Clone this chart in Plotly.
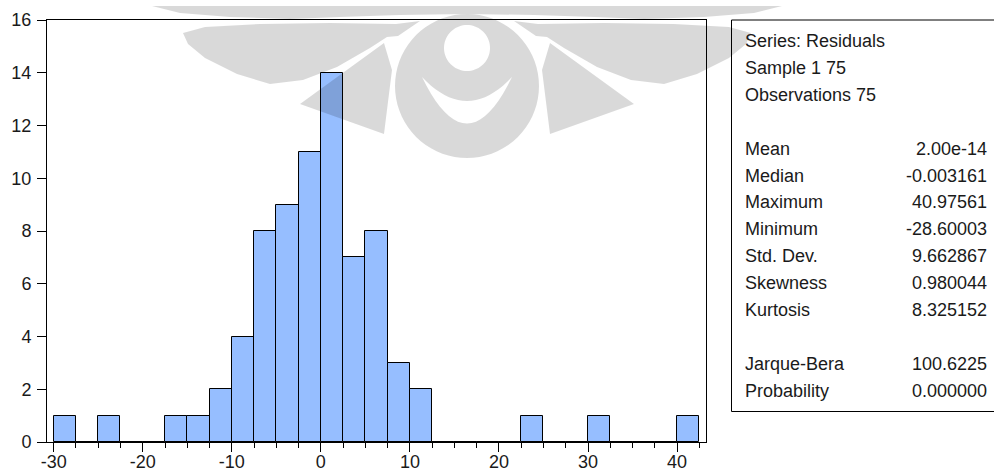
import math
import plotly.graph_objects as go

# Residual histogram: equal-width bins starting at -30
bin_start = -30.0
bin_width = 2.5
counts = [1, 0, 1, 0, 0, 1, 1, 2, 4, 8, 9, 11, 14, 7, 8, 3, 2,
          0, 0, 0, 0, 1, 0, 0, 1, 0, 0, 0, 1]

x_ticks = [-30, -20, -10, 0, 10, 20, 30, 40]
x_tick_labels = ["-30", "-20", "-10", "0", "10", "20", "30", "40"]
y_ticks = [0, 2, 4, 6, 8, 10, 12, 14, 16]

# Descriptive statistics panel
header_lines = ["Series: Residuals", "Sample 1 75", "Observations 75"]
stat_names = ["Mean", "Median", "Maximum", "Minimum", "Std. Dev.", "Skewness", "Kurtosis"]
stat_values = ["2.00e-14", "-0.003161", "40.97561", "-28.60003", "9.662867", "0.980044", "8.325152"]
test_names = ["Jarque-Bera", "Probability"]
test_values = ["100.6225", "0.000000"]

# ---- page geometry (pixels) ----
W, H = 994, 472
ML, MR, MT, MB = 47, 288, 20, 30
PW = W - ML - MR
PH = H - MT - MB
FONT = "Arial, Liberation Sans, sans-serif"
INK = "#1a1a1a"


def px_x(px):
    return (px - ML) / PW


def px_y(py):
    return (H - MB - py) / PH


bin_centers = [bin_start + bin_width * (i + 0.5) for i in range(len(counts))]

fig = go.Figure()
fig.add_trace(go.Bar(
    x=bin_centers,
    y=counts,
    width=bin_width,
    marker=dict(color="#96BEFF", line=dict(color="black", width=1)),
    hoverinfo="x+y",
))

# ---- stats panel: frame + text lines ----
shapes = [dict(type="rect", xref="paper", yref="paper",
               x0=px_x(731.5), x1=px_x(1000), y0=px_y(411.5), y1=px_y(20),
               line=dict(color="black", width=1), fillcolor="rgba(0,0,0,0)",
               layer="above")]

annotations = []
line_h = 26.9
top_y = 41.0
rows = []
for i, t in enumerate(header_lines):
    rows.append((t, None, top_y + i * line_h))
for i, (n, v) in enumerate(zip(stat_names, stat_values)):
    rows.append((n, v, top_y + (4 + i) * line_h))
for i, (n, v) in enumerate(zip(test_names, test_values)):
    rows.append((n, v, top_y + (12 + i) * line_h))

for name, val, yy in rows:
    annotations.append(dict(xref="paper", yref="paper", x=px_x(743), y=px_y(yy),
                            xanchor="left", yanchor="middle", text=name,
                            showarrow=False, font=dict(family=FONT, size=18, color=INK)))
    if val is not None:
        annotations.append(dict(xref="paper", yref="paper", x=px_x(988.5), y=px_y(yy),
                                xanchor="right", yanchor="middle", text=val,
                                showarrow=False, font=dict(family=FONT, size=18, color=INK)))

# ---- faint logo watermark across the top ----
CX = 467.0


def oriented(pts, positive=True):
    area = 0.0
    for (x1, y1), (x2, y2) in zip(pts, pts[1:] + pts[:1]):
        area += x1 * y2 - x2 * y1
    if (area > 0) != positive:
        pts = pts[::-1]
    return pts


def mirror(pts):
    return [(2 * CX - x, y) for x, y in pts]


def circle(cx, cy, r, n=72):
    return [(cx + r * math.cos(2 * math.pi * k / n), cy + r * math.sin(2 * math.pi * k / n))
            for k in range(n)]


band_half = [(143, 0), (CX, 0), (CX, 14), (400, 15), (340, 17), (290, 19),
             (230, 17), (180, 13), (152, 6)]
band = band_half + mirror(band_half)[::-1]
swoosh = [(183, 33), (205, 27), (260, 24), (330, 23), (396, 24), (420, 21),
          (398, 36), (387, 37), (370, 48), (337, 67), (303, 80), (270, 84),
          (237, 74), (205, 58), (188, 44)]
feather = [(300, 104), (384, 43), (392, 70), (384, 134)]

solid = [band, swoosh, mirror(swoosh), feather, mirror(feather), circle(CX, 86, 72)]
hole = circle(CX, 48, 23)
crescent = []
for k in range(0, 21):
    t = k / 20
    crescent.append(((1 - t) ** 2 * 422 + 2 * (1 - t) * t * CX + t ** 2 * 512,
                     (1 - t) ** 2 * 77 + 2 * (1 - t) * t * 170 + t ** 2 * 77))
for k in range(19, 0, -1):
    t = k / 20
    crescent.append(((1 - t) ** 2 * 422 + 2 * (1 - t) * t * CX + t ** 2 * 512,
                     (1 - t) ** 2 * 77 + 2 * (1 - t) * t * 125 + t ** 2 * 77))

parts = [oriented(p, True) for p in solid] + [oriented(hole, False), oriented(crescent, False)]
path = ""
for p in parts:
    path += "M" + "L".join(f"{px_x(x):.5f},{px_y(y):.5f}" for x, y in p) + "Z"

shapes.append(dict(type="path", xref="paper", yref="paper", path=path,
                   fillcolor="rgba(0,0,0,0.15)", line=dict(width=0),
                   fillrule="nonzero", layer="above"))

fig.update_layout(
    width=W, height=H,
    margin=dict(l=ML, r=MR, t=MT, b=MB, pad=0, autoexpand=False),
    paper_bgcolor="white", plot_bgcolor="white",
    showlegend=False,
    bargap=0,
    font=dict(family=FONT, size=18, color=INK),
    shapes=shapes,
    annotations=annotations,
    xaxis=dict(range=[-30.75, 43.25], tickvals=x_ticks, ticktext=x_tick_labels,
               ticks="outside", ticklen=9, automargin=False, ticklabelstandoff=-6,
               tickwidth=1, tickcolor="black", showline=True, linecolor="black",
               linewidth=1, mirror=True, showgrid=False, zeroline=False,
               tickfont=dict(family=FONT, size=18, color=INK),
               minor=dict(dtick=bin_width, tick0=0, ticks="outside", ticklen=5,
                          tickwidth=1, tickcolor="black", showgrid=False)),
    yaxis=dict(range=[0, 16], tickvals=y_ticks, ticks="outside", ticklen=9,
               automargin=False, ticklabelstandoff=2,
               tickwidth=1, tickcolor="black", showline=True, linecolor="black",
               linewidth=1, mirror=True, showgrid=False, zeroline=False,
               tickfont=dict(family=FONT, size=18, color=INK)),
)

fig.write_html("out.html")
